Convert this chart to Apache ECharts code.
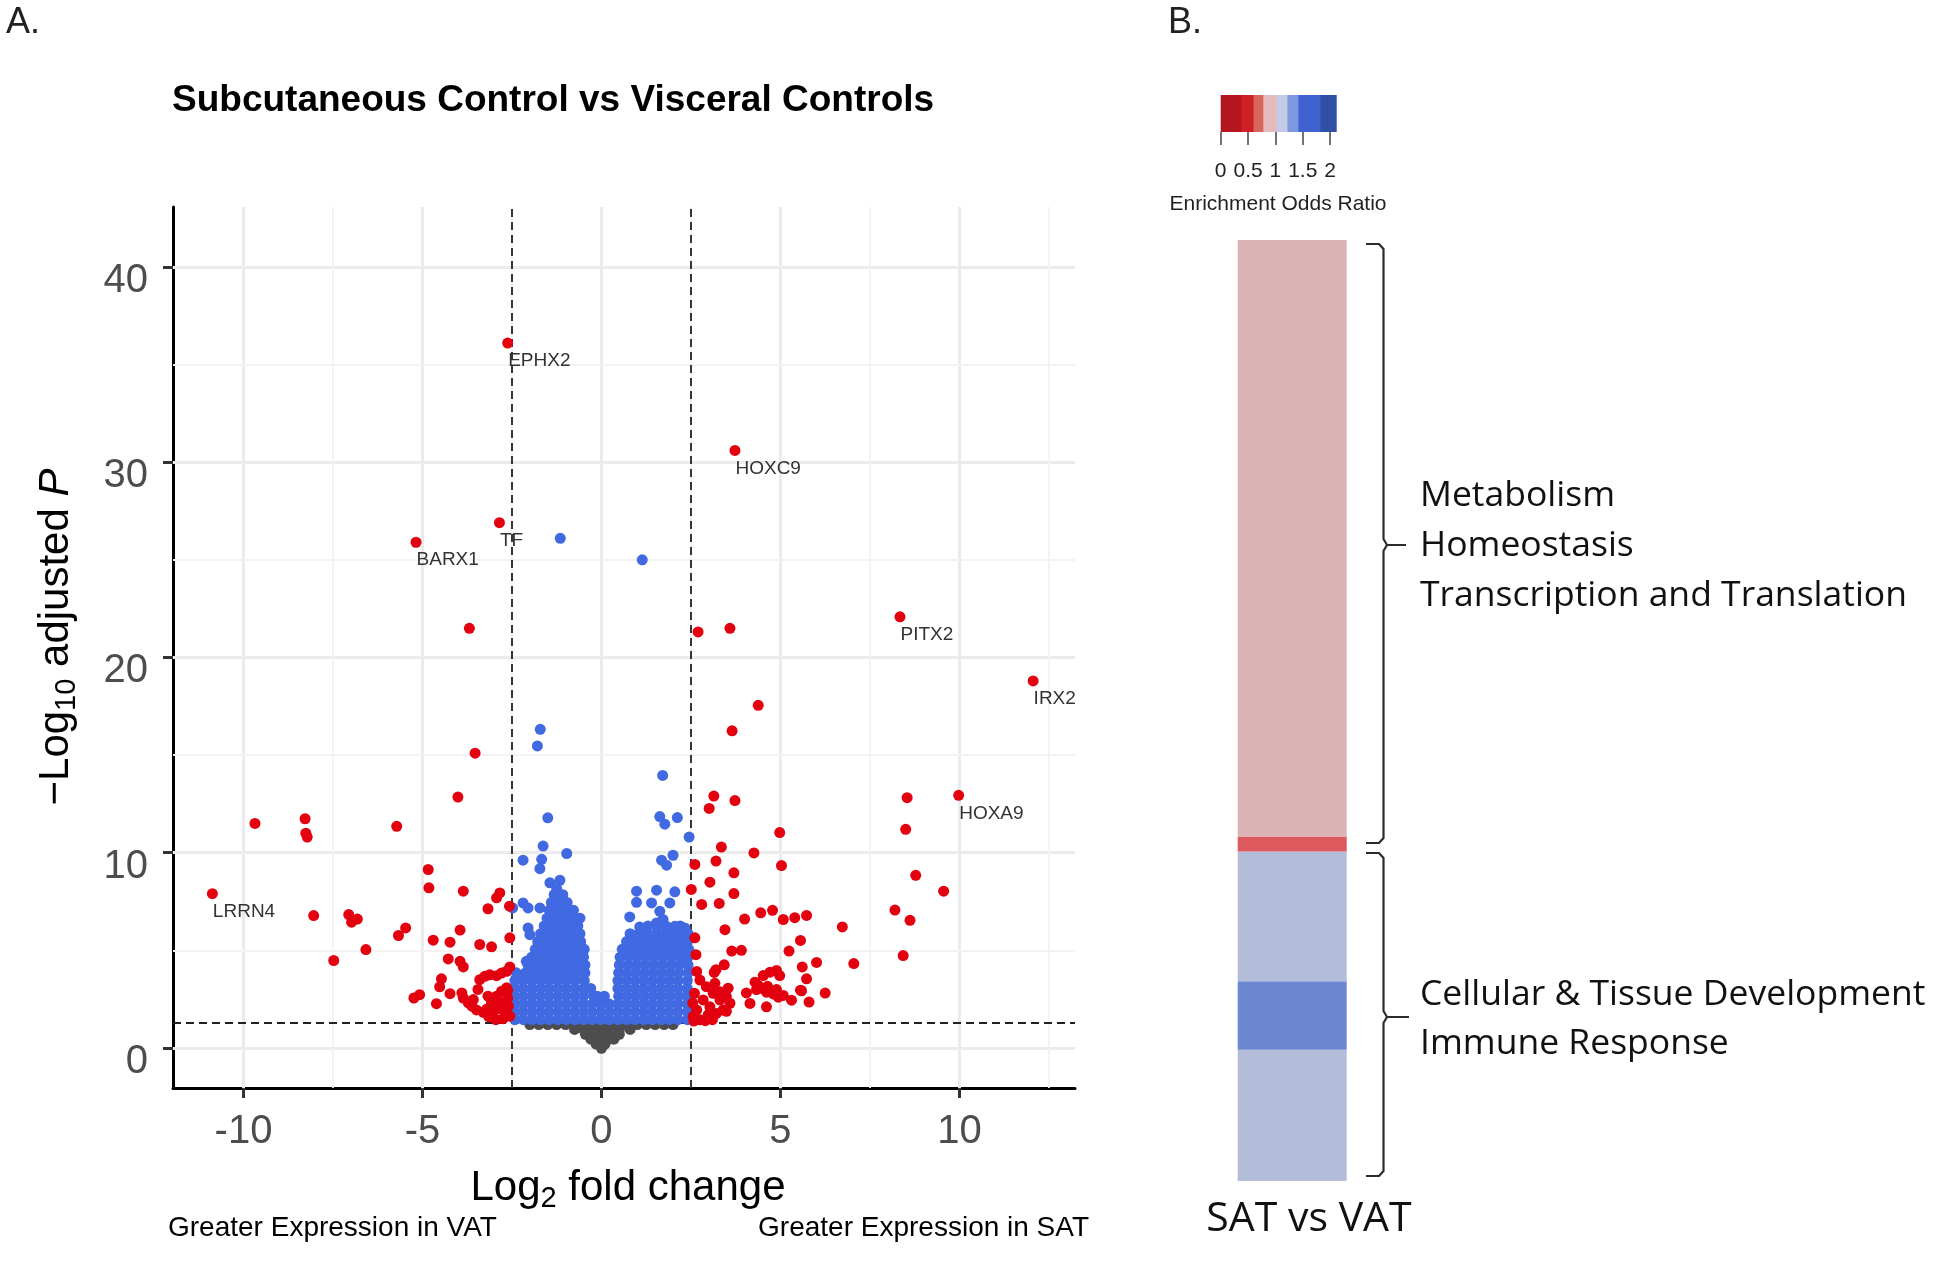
<!DOCTYPE html>
<html>
<head>
<meta charset="utf-8">
<title>SAT vs VAT volcano and enrichment</title>
<script src="https://cdn.jsdelivr.net/npm/echarts@6.0.0/dist/echarts.min.js"></script>
<style>
  html, body { margin: 0; padding: 0; background: #fff; }
  #chart { width: 1950px; height: 1261px; }
</style>
</head>
<body>
<div id="chart"></div>
<script>
// ---- panel A: volcano data (log2 fold change, -log10 adjusted p) ----
const labelledGenes = ['EPHX2', 'TF', 'BARX1', 'HOXC9', 'PITX2', 'IRX2', 'HOXA9', 'LRRN4']
const labelledFc = [-2.62, -2.85, -5.18, 3.73, 8.34, 12.06, 9.98, -10.87]
const labelledP = [36.1, 26.9, 25.9, 30.6, 22.08, 18.8, 12.94, 7.9]

// significant on both cut-offs (red)
const redPoints = [
  [-9.68, 11.5], [-8.28, 11.74], [-8.26, 11.0], [-8.22, 10.8], [-5.72, 11.35], [-3.53, 15.1], [-4.01, 12.85], [-3.69, 21.49],
  [-4.84, 9.14], [-4.82, 8.2], [-3.86, 8.03],
  [-8.04, 6.78], [-7.06, 6.83], [-6.98, 6.44], [-6.82, 6.6], [-7.48, 4.48], [-6.58, 5.04], [-5.67, 5.76], [-5.47, 6.15],
  [-4.7, 5.52], [-3.95, 6.04], [-4.23, 5.42], [-3.4, 5.3], [-3.07, 5.18], [-2.56, 5.64],
  [-3.17, 7.13], [-2.93, 7.69], [-2.84, 7.94], [-2.57, 7.26],
  [-4.28, 4.56], [-3.95, 4.44], [-3.86, 4.15], [-2.56, 4.15], [-4.47, 3.54], [-4.52, 3.13],
  [-3.4, 3.5], [-3.26, 3.67], [-3.12, 3.75], [-2.93, 3.7], [-2.79, 3.84], [-2.65, 3.93],
  [-4.23, 2.78], [-3.9, 2.82], [-3.86, 2.56], [-3.72, 2.31], [-3.62, 2.14], [-3.58, 2.48], [-4.61, 2.27],
  [-3.3, 1.83], [-3.07, 2.31], [-2.93, 2.65], [-2.79, 2.91], [-2.65, 3.08],
  [-3.03, 1.83], [-2.89, 2.0], [-2.7, 1.91], [-2.6, 2.14], [-2.56, 1.63], [-3.17, 2.65], [-3.45, 3.0],
  [-5.24, 2.56], [-5.08, 2.73], [-3.49, 1.95], [-2.62, 2.55], [-2.75, 1.5], [-2.95, 1.45], [-3.15, 1.6],
  [-2.62, 2.95], [-2.85, 2.35], [-3.2, 2.0],
  [4.38, 17.55], [3.65, 16.24], [2.7, 21.31], [3.59, 21.49],
  [3.14, 12.9], [3.01, 12.27], [3.73, 12.67], [4.98, 11.03],
  [8.54, 12.82], [8.5, 11.2], [8.78, 8.84], [9.56, 8.03], [8.2, 7.06], [8.62, 6.54], [8.43, 4.73],
  [3.35, 10.29], [4.26, 9.99], [2.61, 9.4], [3.2, 9.57], [5.03, 9.34], [3.7, 8.97], [3.03, 8.49], [2.51, 8.12],
  [3.7, 7.91], [2.8, 7.35], [3.29, 7.4],
  [4.0, 6.6], [4.45, 6.92], [4.78, 7.05], [5.08, 6.58], [5.4, 6.67], [5.73, 6.79], [6.73, 6.2],
  [3.45, 6.06], [2.61, 5.64], [5.56, 5.51], [5.24, 4.96], [3.64, 4.96], [3.91, 5.0], [2.64, 4.78],
  [3.43, 4.26], [3.2, 4.01], [3.15, 3.87], [5.61, 4.15], [2.66, 3.92], [5.73, 3.54], [7.05, 4.32], [6.01, 4.38],
  [4.52, 3.71], [4.71, 3.88], [4.89, 3.97], [4.98, 3.71], [4.29, 3.37], [4.38, 3.2], [4.52, 3.03],
  [4.61, 2.86], [4.8, 2.77], [4.94, 2.6], [5.08, 2.69], [4.05, 2.82], [4.15, 2.28], [4.61, 2.11], [5.31, 2.45], [5.56, 2.96],
  [6.25, 2.81], [5.8, 2.35], [5.59, 2.93], [4.64, 3.16], [4.89, 2.99], [4.33, 2.99],
  [2.75, 3.48], [2.93, 3.14], [3.12, 2.8], [3.31, 2.88], [3.49, 2.63], [3.59, 2.29], [3.4, 1.95], [3.21, 1.77],
  [3.03, 2.11], [2.84, 2.46], [2.66, 1.95], [2.56, 1.61], [2.75, 1.44], [2.98, 1.7], [3.31, 2.46], [3.54, 3.06],
  [3.17, 3.31], [3.49, 1.88], [2.55, 2.3], [2.6, 2.8], [2.58, 1.38], [2.9, 1.4], [3.1, 1.45]
]

// significant p only (blue), scattered points
const blueScatter = [
  [-1.15, 26.1], [1.14, 25.0], [-1.71, 16.32], [-1.79, 15.47], [-1.5, 11.79], [1.71, 13.96], [1.63, 11.85],
  [1.77, 11.46], [2.12, 11.8], [2.45, 10.8], [-1.63, 10.34], [-0.97, 9.96], [-2.19, 9.62], [-1.67, 9.66],
  [-1.72, 9.18], [1.68, 9.62], [1.82, 9.36], [2.0, 9.87], [-1.44, 8.46], [-1.16, 8.59], [-2.19, 7.43],
  [-2.05, 7.17], [-1.72, 7.17], [-2.48, 7.17], [-2.05, 6.15], [-2.0, 5.8], [-2.1, 4.44], [0.98, 8.03],
  [1.54, 8.08], [2.05, 8.0], [0.98, 7.46], [1.4, 7.43], [1.91, 7.43], [1.63, 7.0], [1.72, 6.58], [1.54, 6.4],
  [2.05, 6.23], [2.33, 6.15], [0.79, 6.71], [1.07, 6.2]
]
// the dense blue mass, read row by row: [-log10 p, [log2 fc ...]]
const blueRows = [
  [1.45, [-2.42, -2.18, -1.94, -1.7, -1.46, -1.22, -0.98, -0.74, -0.5, -0.26, -0.02, 0.22, 0.46, 0.7, 0.94, 1.18, 1.42, 1.66, 1.9, 2.14, 2.4]],
  [1.85, [-2.42, -2.18, -1.94, -1.7, -1.46, -1.22, -0.98, -0.74, -0.5, -0.26, -0.02, 0.22, 0.46, 0.7, 0.94, 1.18, 1.42, 1.66, 1.9, 2.14, 2.4]],
  [2.25, [-2.42, -2.18, -1.94, -1.7, -1.46, -1.22, -0.98, -0.74, -0.5, -0.26, -0.02, 0.22, 0.46, 0.7, 0.94, 1.18, 1.42, 1.66, 1.9, 2.14, 2.4]],
  [2.65, [-2.42, -2.18, -1.94, -1.7, -1.46, -1.22, -0.98, -0.74, -0.5, -0.22, -0.12, 0.08, 0.48, 0.72, 0.96, 1.2, 1.44, 1.68, 1.92, 2.16, 2.4]],
  [3.05, [-2.42, -2.18, -1.94, -1.7, -1.46, -1.22, -0.98, -0.74, -0.5, -0.3, 0.46, 0.7, 0.94, 1.18, 1.42, 1.66, 1.9, 2.14, 2.4]],
  [3.45, [-2.42, -2.18, -1.94, -1.7, -1.46, -1.22, -0.98, -0.74, -0.48, 0.46, 0.7, 0.94, 1.18, 1.42, 1.66, 1.9, 2.14, 2.4]],
  [3.85, [-2.38, -2.12, -1.88, -1.64, -1.4, -1.16, -0.92, -0.68, -0.46, 0.48, 0.72, 0.96, 1.2, 1.44, 1.68, 1.92, 2.16, 2.42]],
  [4.25, [-2.05, -1.82, -1.58, -1.34, -1.1, -0.86, -0.62, -0.46, 0.5, 0.74, 0.98, 1.22, 1.46, 1.7, 1.94, 2.18, 2.42]],
  [4.65, [-1.95, -1.72, -1.48, -1.24, -1.0, -0.76, -0.5, 0.52, 0.76, 1.0, 1.24, 1.48, 1.72, 1.96, 2.2, 2.42]],
  [5.05, [-1.85, -1.6, -1.36, -1.12, -0.88, -0.64, -0.48, 0.58, 0.82, 1.06, 1.3, 1.54, 1.78, 2.02, 2.26, 2.44]],
  [5.45, [-1.78, -1.54, -1.3, -1.06, -0.82, -0.58, 0.7, 0.94, 1.18, 1.42, 1.66, 1.9, 2.14, 2.4]],
  [5.85, [-1.7, -1.46, -1.22, -0.98, -0.74, -0.6, 0.8, 1.04, 1.28, 1.52, 1.76, 2.0, 2.24, 2.42]],
  [6.25, [-1.6, -1.36, -1.12, -0.88, -0.66, 1.3, 1.55, 1.8, 2.2]],
  [6.65, [-1.52, -1.28, -1.04, -0.8, -0.6]],
  [7.05, [-1.46, -1.22, -0.98, -0.78]],
  [7.45, [-1.4, -1.16, -0.96]],
  [7.85, [-1.32, -1.08]],
  [8.15, [-1.25]]
]
// not significant (grey), the funnel under the p cut-off
const greyRows = [
  [1.2, [-2.0, -1.75, -1.5, -1.25, -1.0, -0.75, -0.5, -0.25, 0.0, 0.25, 0.5, 0.75, 1.0, 1.25, 1.5, 1.75, 2.0]],
  [0.95, [-0.75, -0.5, -0.25, 0.0, 0.25, 0.5, 0.8]],
  [0.7, [-0.45, -0.2, 0.05, 0.3, 0.5]],
  [0.45, [-0.3, -0.05, 0.2, 0.35]],
  [0.2, [-0.15, 0.1]],
  [-0.02, [0.0]]
]

const xTicks = [-10, -5, 0, 5, 10]
const yTicks = [0, 10, 20, 30, 40]
const xMinorGrid = [-7.5, -2.5, 2.5, 7.5, 12.5]
const yMinorGrid = [5, 15, 25, 35]
const fcCutoff = 2.5
const pCutoff = 1.3

// ---- panel B: enrichment strip (bottom to top) ----
const stripBlocks = ['Immune response', 'Tissue development', 'Cellular development', 'Transcription', 'Metabolism and homeostasis']
const stripSizes = [8.8, 4.6, 8.7, 1, 40]
const stripOdds = [1.15, 1.5, 1.15, 0.55, 0.9]
const colorbarEdges = [0, 0.38, 0.6, 0.78, 1.02, 1.22, 1.42, 1.82, 2.11]
const colorbarTicks = [0, 0.5, 1, 1.5, 2]

// ---- styles ----
const ARIAL = 'Liberation Sans, Arial, sans-serif'
const SANS = 'Open Sans, Noto Sans, sans-serif'
const RED = '#e3000f'
const BLUE = '#4169e1'
const GREY = '#4d4d4d'
const DOT = 11
const stripColors = ['#b3bcd9', '#6c86d2', '#b3bcd9', '#dc5a5e', '#d9b3b5']
const colorbarColors = ['#b3161f', '#d02027', '#d9665c', '#e4bbbc', '#c4cae8', '#7e98df', '#3f62d0', '#3050a6']

const toPoints = rows => {
  const pts = []
  rows.forEach(([y, xs]) => xs.forEach(x => pts.push([x, y])))
  return pts
}
const bluePoints = blueScatter.concat(toPoints(blueRows))
const greyPoints = toPoints(greyRows)

const gridLines = []
xTicks.forEach(v => gridLines.push({ xAxis: v, lineStyle: { width: 3, color: '#ebebeb', type: 'solid' } }))
yTicks.forEach(v => gridLines.push({ yAxis: v, lineStyle: { width: 3, color: '#ebebeb', type: 'solid' } }))
xMinorGrid.forEach(v => gridLines.push({ xAxis: v, lineStyle: { width: 1.8, color: '#f2f2f2', type: 'solid' } }))
yMinorGrid.forEach(v => gridLines.push({ yAxis: v, lineStyle: { width: 1.8, color: '#f2f2f2', type: 'solid' } }))

const cutLines = [
  { xAxis: -fcCutoff }, { xAxis: fcCutoff }, { yAxis: pCutoff }
]

const stripSeries = stripBlocks.map((name, i) => ({
  name: name,
  type: 'bar',
  xAxisIndex: 2,
  yAxisIndex: 2,
  stack: 'strip',
  barWidth: '100%',
  data: [{ value: stripSizes[i], odds: stripOdds[i] }],
  itemStyle: { color: stripColors[i] },
  silent: true
}))

const chart = echarts.init(document.getElementById('chart'))
chart.setOption({
  animation: false,
  backgroundColor: '#fff',
  grid: [
    { left: 173, top: 207, width: 902, height: 881, outerBoundsMode: 'none' },
    { left: 1220.7, top: 95, width: 115.4, height: 37, outerBoundsMode: 'none' },
    { left: 1237.7, top: 240, width: 109, height: 941, outerBoundsMode: 'none' }
  ],
  xAxis: [
    {
      gridIndex: 0, type: 'value', min: -11.97, max: 13.23,
      axisLine: { show: true, onZero: false, lineStyle: { color: '#000', width: 3 } },
      axisTick: { show: true, customValues: xTicks, length: 10, lineStyle: { color: '#333', width: 3 } },
      axisLabel: { customValues: xTicks, fontSize: 40, color: GREY, margin: 24, fontFamily: ARIAL },
      splitLine: { show: false }
    },
    {
      gridIndex: 1, type: 'value', min: 0, max: 2.11,
      axisLine: { show: false },
      axisTick: { show: true, customValues: colorbarTicks, length: 13, lineStyle: { color: '#444', width: 1.5 } },
      axisLabel: { customValues: colorbarTicks, fontSize: 21, color: '#222', margin: 29, fontFamily: ARIAL },
      splitLine: { show: false }
    },
    {
      gridIndex: 2, type: 'category', data: ['SAT vs VAT'], show: false
    }
  ],
  yAxis: [
    {
      gridIndex: 0, type: 'value', min: -2.05, max: 43.07,
      axisLine: { show: true, onZero: false, lineStyle: { color: '#000', width: 3 } },
      axisTick: { show: true, customValues: yTicks, length: 10, lineStyle: { color: '#333', width: 3 } },
      axisLabel: {
        customValues: yTicks, margin: 25, formatter: '{v|{value}}',
        rich: { v: { fontSize: 40, color: GREY, fontFamily: ARIAL, padding: [28, 0, 0, 0] } }
      },
      splitLine: { show: false }
    },
    { gridIndex: 1, type: 'value', min: 0, max: 1, show: false },
    { gridIndex: 2, type: 'value', min: 0, max: stripSizes.reduce((a, b) => a + b, 0), show: false }
  ],
  series: [
    {
      type: 'scatter', xAxisIndex: 0, yAxisIndex: 0, data: [], zlevel: 0, z: 1, silent: true,
      markLine: { silent: true, symbol: ['none', 'none'], label: { show: false }, data: gridLines, animation: false }
    },
    {
      name: 'NS', type: 'scatter', data: greyPoints, symbolSize: DOT, zlevel: 1, z: 2,
      itemStyle: { color: GREY, opacity: 1 }
    },
    {
      name: 'p-value', type: 'scatter', data: bluePoints, symbolSize: DOT, zlevel: 1, z: 3,
      itemStyle: { color: BLUE, opacity: 1 }
    },
    {
      name: 'p-value and log2 FC', type: 'scatter', data: redPoints, symbolSize: DOT, zlevel: 1, z: 4,
      itemStyle: { color: RED, opacity: 1 }
    },
    {
      type: 'scatter', data: [], zlevel: 1, z: 5, silent: true,
      markLine: {
        silent: true, symbol: ['none', 'none'], label: { show: false }, animation: false,
        lineStyle: { color: '#222', width: 1.8, type: [8, 5] },
        data: cutLines
      }
    },
    {
      name: 'labelled', type: 'scatter', symbolSize: DOT, zlevel: 1, z: 6,
      data: labelledGenes.map((g, i) => ({ name: g, value: [labelledFc[i], labelledP[i]] })),
      itemStyle: { color: RED, opacity: 1 },
      label: {
        show: true, formatter: '{b}', position: [6, 14], align: 'left', verticalAlign: 'top',
        fontSize: 19, color: '#333', fontFamily: ARIAL
      }
    },
    {
      type: 'custom', xAxisIndex: 1, yAxisIndex: 1, silent: true,
      data: colorbarColors.map((c, i) => [colorbarEdges[i], colorbarEdges[i + 1]]),
      renderItem: (params, api) => {
        const p0 = api.coord([api.value(0), 1])
        const p1 = api.coord([api.value(1), 0])
        return {
          type: 'rect',
          shape: { x: p0[0], y: p0[1], width: p1[0] - p0[0] + 0.6, height: p1[1] - p0[1] },
          style: { fill: colorbarColors[params.dataIndex] }
        }
      }
    }
  ].concat(stripSeries),
  graphic: [
    { type: 'text', x: 6, y: 23, style: { text: 'A.', fontSize: 36, fontFamily: ARIAL, fill: '#222', align: 'left', verticalAlign: 'middle' } },
    { type: 'text', x: 1168, y: 23, style: { text: 'B.', fontSize: 36, fontFamily: ARIAL, fill: '#222', align: 'left', verticalAlign: 'middle' } },
    { type: 'text', x: 172, y: 101, style: { text: 'Subcutaneous Control vs Visceral Controls', fontSize: 37, fontWeight: 'bold', fontFamily: ARIAL, fill: '#000', align: 'left', verticalAlign: 'middle' } },
    {
      type: 'text', x: 628, y: 1188,
      style: {
        text: '{a|Log}{s|2}{a| fold change}', align: 'center', verticalAlign: 'middle',
        rich: {
          a: { fontSize: 42, fontFamily: ARIAL, fill: '#000', lineHeight: 50 },
          s: { fontSize: 29, fontFamily: ARIAL, fill: '#000', lineHeight: 24, verticalAlign: 'bottom' }
        }
      }
    },
    {
      type: 'text', x: 56, y: 637, rotation: Math.PI / 2,
      style: {
        text: '{a|\u2212Log}{s|10}{a| adjusted }{i|P}', align: 'center', verticalAlign: 'middle',
        rich: {
          a: { fontSize: 42, fontFamily: ARIAL, fill: '#000', lineHeight: 50 },
          s: { fontSize: 29, fontFamily: ARIAL, fill: '#000', lineHeight: 24, verticalAlign: 'bottom' },
          i: { fontSize: 42, fontFamily: ARIAL, fill: '#000', lineHeight: 50, fontStyle: 'italic' }
        }
      }
    },
    { type: 'text', x: 168, y: 1228, style: { text: 'Greater Expression in VAT', fontSize: 28, fontFamily: ARIAL, fill: '#000', align: 'left', verticalAlign: 'middle' } },
    { type: 'text', x: 1089, y: 1228, style: { text: 'Greater Expression in SAT', fontSize: 28, fontFamily: ARIAL, fill: '#000', align: 'right', verticalAlign: 'middle' } },

    { type: 'text', x: 1278, y: 204, style: { text: 'Enrichment Odds Ratio', fontSize: 21, fontFamily: ARIAL, fill: '#222', align: 'center', verticalAlign: 'middle' } },
    { type: 'text', x: 1309, y: 1219, style: { text: 'SAT vs VAT', fontSize: 41, fontFamily: SANS, fill: '#111', align: 'center', verticalAlign: 'middle' } },
    { type: 'text', x: 1420, y: 496, style: { text: 'Metabolism', fontSize: 35.5, fontFamily: SANS, fill: '#111', align: 'left', verticalAlign: 'middle' } },
    { type: 'text', x: 1420, y: 546, style: { text: 'Homeostasis', fontSize: 35.5, fontFamily: SANS, fill: '#111', align: 'left', verticalAlign: 'middle' } },
    { type: 'text', x: 1420, y: 596, style: { text: 'Transcription and Translation', fontSize: 35.5, fontFamily: SANS, fill: '#111', align: 'left', verticalAlign: 'middle' } },
    { type: 'text', x: 1420, y: 995, style: { text: 'Cellular & Tissue Development', fontSize: 35.5, fontFamily: SANS, fill: '#111', align: 'left', verticalAlign: 'middle' } },
    { type: 'text', x: 1420, y: 1044, style: { text: 'Immune Response', fontSize: 35.5, fontFamily: SANS, fill: '#111', align: 'left', verticalAlign: 'middle' } },

    // braces
    { type: 'polyline', shape: { points: [[1366, 244], [1379, 244], [1383.5, 249], [1383.5, 539], [1387, 545], [1406, 545]] }, style: { stroke: '#2b2b2b', lineWidth: 2.2, fill: null } },
    { type: 'polyline', shape: { points: [[1387, 545], [1383.5, 551], [1383.5, 838], [1379, 843], [1366, 843]] }, style: { stroke: '#2b2b2b', lineWidth: 2.2, fill: null } },
    { type: 'polyline', shape: { points: [[1366, 853], [1379, 853], [1383.5, 858], [1383.5, 1011], [1387, 1017], [1409, 1017]] }, style: { stroke: '#2b2b2b', lineWidth: 2.2, fill: null } },
    { type: 'polyline', shape: { points: [[1387, 1017], [1383.5, 1023], [1383.5, 1171], [1379, 1176], [1366, 1176]] }, style: { stroke: '#2b2b2b', lineWidth: 2.2, fill: null } }
  ]
})
</script>
</body>
</html>
